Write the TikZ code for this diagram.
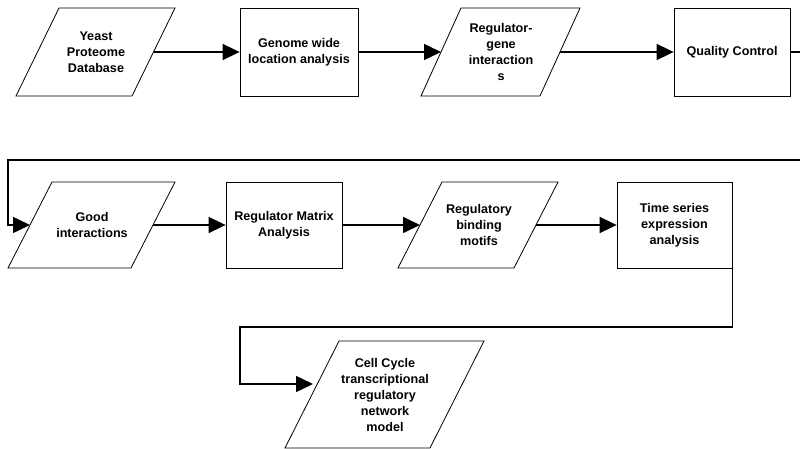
\documentclass[tikz,border=0pt]{standalone}
\usepackage{fontspec}
\setmainfont{Liberation Sans}
\usetikzlibrary{arrows.meta}
\newcommand{\mypara}[6]{% name, x left, x right, y top, y bottom, slant offset
  \draw[shp] (#2,#5) -- ({#3-#6},#5) -- (#3,#4) -- ({#2+#6},#4) -- cycle;
  \coordinate (#1-l) at ({#2+#6/2},{(#4+#5)/2});
  \coordinate (#1-r) at ({#3-#6/2},{(#4+#5)/2});
}
\begin{document}
\begin{tikzpicture}[x=1pt,y=-1pt,
  lbl/.style={align=center,inner sep=0pt,font=\fontsize{12.6}{16}\selectfont\bfseries},
  shp/.style={line width=0.8pt},
  box/.style={lbl,draw,line width=0.8pt,rectangle},
  conn/.style={line width=1.6pt,-{Triangle[length=17pt,width=16pt]}}
]
\useasboundingbox (0,0) rectangle (800,449);
% row 1
\mypara{p1}{16}{175}{8}{96}{43}
\node[lbl] (p1) at (96,52) {Yeast\\Proteome\\Database};
\node[box,minimum width=118pt,minimum height=88pt] (g2) at (299,52) {Genome wide\\location analysis};
\mypara{p3}{421}{580}{8}{96}{40}
\node[lbl] (p3) at (501,52) {Regulator-\\gene\\interaction\\s};
\node[box,minimum width=116pt,minimum height=88pt] (q4) at (732,52) {Quality Control};
% row 2
\mypara{good}{8}{175}{182}{268}{44}
\node[lbl] (good) at (92,225) {Good\\interactions};
\node[box,minimum width=116pt,minimum height=86pt] (rma) at (284,225) {Regulator Matrix\\Analysis};
\mypara{mot}{398}{558}{182}{268}{44}
\node[lbl] (mot) at (479,225) {Regulatory\\binding\\motifs};
\node[box,minimum width=115pt,minimum height=86pt] (tim) at (674.5,225) {Time series\\expression\\analysis};
% row 3
\mypara{cell}{285}{484}{341}{448}{54}
\node[lbl] (cell) at (385,395) {Cell Cycle\\transcriptional\\regulatory\\network\\model};
\coordinate (cell-in) at (318,384);
% routing coordinates
\coordinate (r1) at (806,160);
\coordinate (l1) at (8,160);
\coordinate (k1) at (240,327);
% connectors
\draw[conn] (p1-r) -- (g2.west);
\draw[conn] (g2.east) -- (p3-l);
\draw[conn] (p3-r) -- (q4.west);
\draw[conn] (q4.east) -| (r1) -- (l1) |- (good-l);
\draw[conn] (good-r) -- (rma.west);
\draw[conn] (rma.east) -- (mot-l);
\draw[conn] (mot-r) -- (tim.west);
\draw[conn,shorten >=5pt] (tim.east) |- (k1) |- (cell-in);
\end{tikzpicture}
\end{document}
